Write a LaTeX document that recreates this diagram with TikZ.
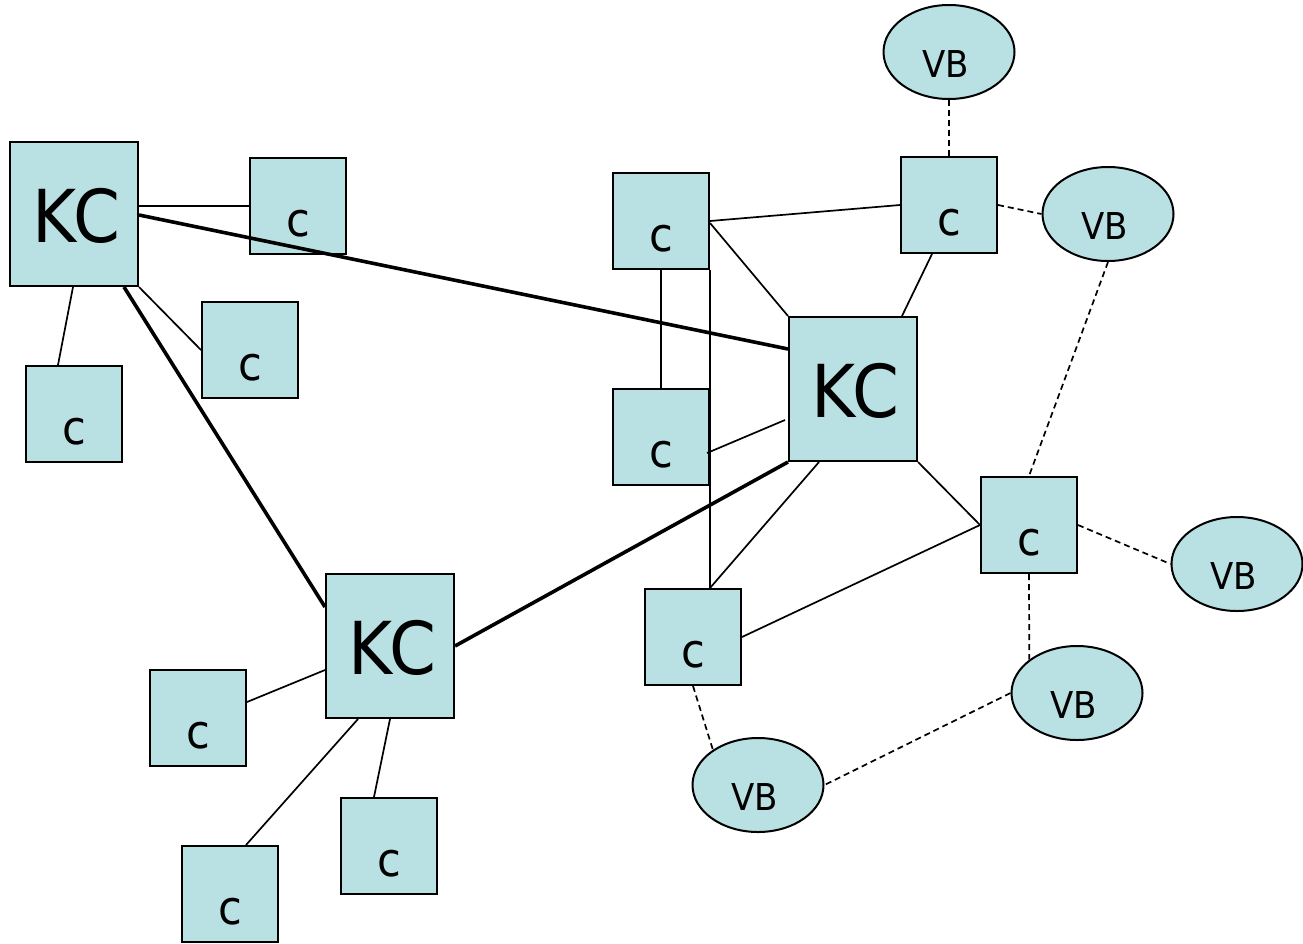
\documentclass[tikz,border=0pt]{standalone}
\usepackage{fontspec}
\usetikzlibrary{shapes.geometric,calc}
\newfontfamily\diafont[FakeStretch=0.92]{DejaVu Sans}
\definecolor{boxfill}{RGB}{185,224,227}
\tikzset{
  base/.style={draw=black, fill=boxfill, line width=2pt, inner sep=0pt},
  kcbox/.style={base, rectangle, minimum width=128pt, minimum height=144pt},
  cbox/.style={base, rectangle, minimum width=96pt, minimum height=96pt},
  vbell/.style={base, ellipse, minimum width=131pt, minimum height=94pt},
  kclbl/.style={font=\diafont\fontsize{73}{73}\selectfont, inner sep=0pt, xshift=2.5pt, yshift=-2pt},
  clbl/.style={font=\diafont\fontsize{47}{47}\selectfont, inner sep=0pt, yshift=-18pt},
  vblbl/.style={font=\diafont\fontsize{37}{37}\selectfont, inner sep=0pt, xshift=-3pt, yshift=-12pt},
  thin/.style={line width=1.7pt},
  thick/.style={line width=3.6pt},
  dashlink/.style={line width=1.7pt, dash pattern=on 6pt off 4pt},
}
\begin{document}
\begin{tikzpicture}[x=1pt,y=-1pt]
\useasboundingbox (0,0) rectangle (1303,943);
% KC nodes
\node[kcbox, label={[kclbl]center:KC}] (kc1) at (74,214) {};
\node[kcbox, label={[kclbl]center:KC}] (kc2) at (390,646) {};
\node[kcbox, label={[kclbl]center:KC}] (kc3) at (853,389) {};
% c nodes
\node[cbox, label={[clbl]center:c}] (c1) at (298,206) {};
\node[cbox, label={[clbl]center:c}] (c2) at (250,350) {};
\node[cbox, label={[clbl]center:c}] (c3) at (74,414) {};
\node[cbox, label={[clbl]center:c}] (c4) at (198,718) {};
\node[cbox, label={[clbl]center:c}] (c5) at (389,846) {};
\node[cbox, label={[clbl]center:c}] (c6) at (230,894) {};
\node[cbox, label={[clbl]center:c}] (cA) at (661,221) {};
\node[cbox, label={[clbl]center:c}] (cB) at (661,437) {};
\node[cbox, label={[clbl]center:c}] (cC) at (949,205) {};
\node[cbox, label={[clbl]center:c}] (cD) at (1029,525) {};
\node[cbox, label={[clbl]center:c}] (cE) at (693,637) {};
% VB nodes
\node[vbell, label={[vblbl]center:VB}] (vb1) at (949,52) {};
\node[vbell, label={[vblbl]center:VB}] (vb2) at (1108,214) {};
\node[vbell, label={[vblbl]center:VB}] (vb3) at (1237,564) {};
\node[vbell, label={[vblbl]center:VB}] (vb4) at (1077,693) {};
\node[vbell, label={[vblbl]center:VB}] (vb5) at (758,785) {};
% thin links
\draw[thin] (kc1.east |- c1.west) -- (c1.west);
\draw[thin] (kc1.south east) -- (c2.west);
\draw[thin] ($(kc1.south)+(-1,0)$) -- ($(c3.north)+(-16,0)$);
\draw[thin] ($(kc2.north west)+(0,97)$) -- ($(c4.east)+(0,-16)$);
\draw[thin] ($(kc2.south)+(-32,0)$) -- ($(c6.north)+(16,0)$);
\draw[thin] (kc2.south) -- ($(c5.north)+(-15,0)$);
\draw[thin] ($(cA.east)+(0,2)$) -- (kc3.north west);
\draw[thin] (cA.east) -- (cC.west);
\draw[thin] (cA.south) -- (cB.north);
\draw[thin] (cA.south east) -- (cA.south east |- cE.north);
\draw[thin] ($(cC.south)+(-17,0)$) -- ($(kc3.north east)+(-16,0)$);
\draw[thin] ($(kc3.north west)+(-3,104)$) -- ($(cB.east)+(-3,16)$);
\draw[thin] ($(kc3.south west)+(31,0)$) -- ($(cE.north east)+(-32,0)$);
\draw[thin] (kc3.south east) -- (cD.west);
\draw[thin] (cD.west) -- (cE.east);
% thick links
\draw[thick] ($(kc1.east)+(0,1)$) -- ($(kc3.north west)+(0,33)$);
\draw[thick] ($(kc1.south east)+(-15,0)$) -- ($(kc2.north west)+(0,34)$);
\draw[thick] (kc2.east) -- (kc3.south west);
% dashed links
\draw[dashlink] (vb1.south) -- (cC.north);
\draw[dashlink] (cC.east) -- (vb2.west);
\draw[dashlink] (vb2.south) -- (cD.north);
\draw[dashlink] (cD.east) -- (vb3.west);
\draw[dashlink] (cD.south) -- (vb4.145);
\draw[dashlink] (vb4.west) -- (vb5.east);
\draw[dashlink] (cE.south) -- (vb5.142);
\end{tikzpicture}
\end{document}
